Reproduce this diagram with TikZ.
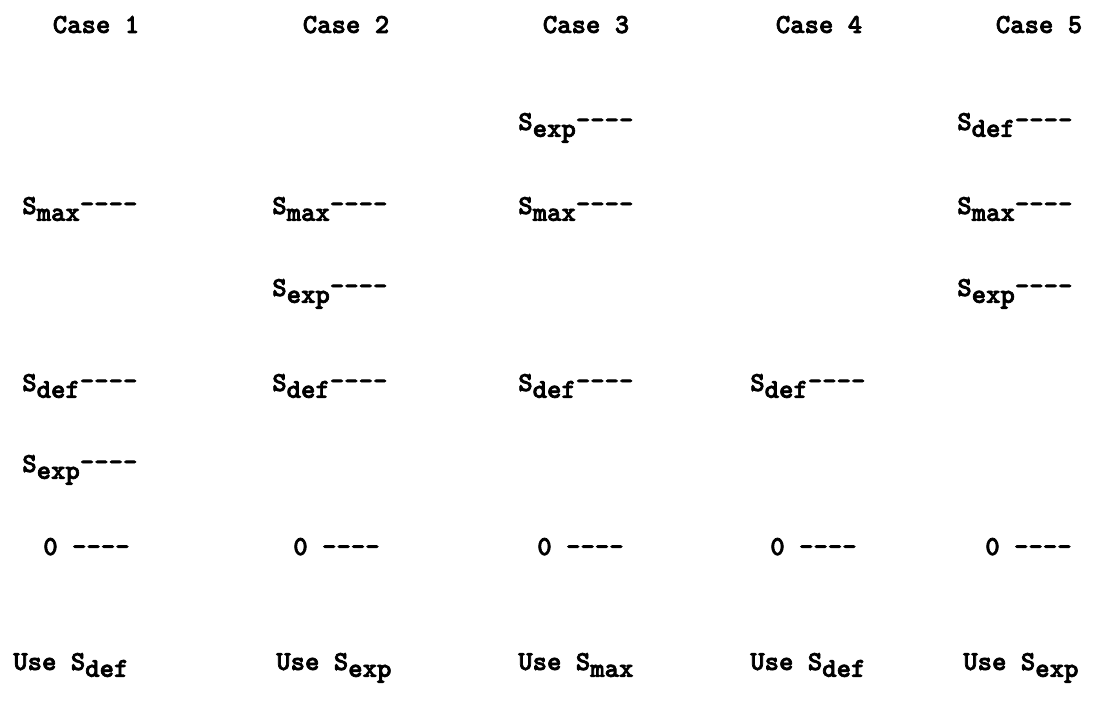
\documentclass[tikz,border=0pt]{standalone}
\usepackage{fontspec}
\newfontfamily\courfont{lmmonolt10-bold}[Extension=.otf, FakeBold=2.5]
\newcommand{\sub}[1]{\raisebox{-0.25em}{#1}}
\newcommand{\lv}[1]{S\sub{#1}\raisebox{0.06em}{––––}}
\tikzset{
  casehd/.style={font=\courfont\fontsize{19.5}{22}\selectfont, inner sep=0pt, anchor=base},
  lvl/.style={font=\courfont\fontsize{19.5}{22}\selectfont, inner sep=0pt, anchor=base west}
}

\begin{document}
\begin{tikzpicture}[x=1cm, y=1cm]
    \useasboundingbox[fill=white] (0,0) rectangle (27.4,17.725);
    % case headers
    \node[casehd] (h1) at (2.4,16.9) {Case 1};
    \node[casehd] (h2) at (8.65,16.9) {Case 2};
    \node[casehd] (h3) at (14.65,16.9) {Case 3};
    \node[casehd] (h4) at (20.475,16.9) {Case 4};
    \node[casehd] (h5) at (25.975,16.9) {Case 5};
    % case 1
    \node[lvl] (c1max) at (0.55,12.375) {\lv{max}};
    \node[lvl] (c1def) at (0.55,7.95) {\lv{def}};
    \node[lvl] (c1exp) at (0.55,5.925) {\lv{exp}};
    \node[lvl] (c1zero) at (1.075,3.85) {0 ––––};
    \node[lvl] (c1use) at (0.325,0.975) {Use S\sub{def}};
    % case 2
    \node[lvl] (c2max) at (6.8,12.375) {\lv{max}};
    \node[lvl] (c2exp) at (6.8,10.325) {\lv{exp}};
    \node[lvl] (c2def) at (6.8,7.95) {\lv{def}};
    \node[lvl] (c2zero) at (7.325,3.85) {0 ––––};
    \node[lvl] (c2use) at (6.9,0.975) {Use S\sub{exp}};
    % case 3
    \node[lvl] (c3exp) at (12.95,14.475) {\lv{exp}};
    \node[lvl] (c3max) at (12.95,12.375) {\lv{max}};
    \node[lvl] (c3def) at (12.95,7.95) {\lv{def}};
    \node[lvl] (c3zero) at (13.425,3.85) {0 ––––};
    \node[lvl] (c3use) at (12.95,0.975) {Use S\sub{max}};
    % case 4
    \node[lvl] (c4def) at (18.75,7.95) {\lv{def}};
    \node[lvl] (c4zero) at (19.25,3.85) {0 ––––};
    \node[lvl] (c4use) at (18.75,0.975) {Use S\sub{def}};
    % case 5
    \node[lvl] (c5def) at (23.925,14.475) {\lv{def}};
    \node[lvl] (c5max) at (23.925,12.375) {\lv{max}};
    \node[lvl] (c5exp) at (23.925,10.325) {\lv{exp}};
    \node[lvl] (c5zero) at (24.625,3.85) {0 ––––};
    \node[lvl] (c5use) at (24.075,0.975) {Use S\sub{exp}};
\end{tikzpicture}
\end{document}
